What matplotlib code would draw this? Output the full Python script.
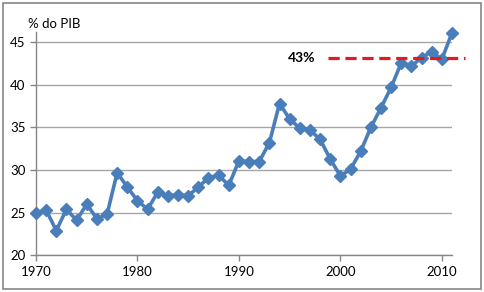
import matplotlib
matplotlib.use("Agg")
import matplotlib.pyplot as plt
from matplotlib.patches import Rectangle

years = list(range(1970, 2012))
values = [25.0, 25.3, 22.9, 25.4, 24.1, 26.0, 24.3, 24.8, 29.7, 28.0,
          26.4, 25.4, 27.4, 27.0, 27.1, 27.0, 28.0, 29.1, 29.4, 28.2,
          31.1, 31.0, 31.0, 33.2, 37.8, 36.0, 34.9, 34.7, 33.6, 31.3,
          29.3, 30.1, 32.2, 35.0, 37.3, 39.7, 42.6, 42.2, 43.2, 43.9,
          43.0, 46.1]
ref_level = 43.2
ref_label = "43%"
ref_span = [1998.8, 2012.3]

plt.rcParams['font.family'] = ['Lato', 'DejaVu Sans']

fig = plt.figure(figsize=(4.84, 2.92), dpi=100)
ax = fig.add_axes([36 / 484, 1 - 255.3 / 292, (452 - 36) / 484, (255.3 - 32) / 292])

ax.set_xlim(1970, 2011)
ax.set_ylim(20, 46.2)
ax.set_yticks([20, 25, 30, 35, 40, 45])
ax.set_xticks([1970, 1980, 1990, 2000, 2010])
ax.yaxis.grid(True, color='#a6a6a6', linewidth=1.0)
ax.set_axisbelow(True)
for s in ['top', 'right']:
    ax.spines[s].set_visible(False)
for s in ['left', 'bottom']:
    ax.spines[s].set_color('#868686')
    ax.spines[s].set_linewidth(1.0)
ax.tick_params(axis='both', colors='#868686', length=4, width=1,
               labelcolor='black', labelsize=9.5)

ax.plot(years, values, color='#4a7ebb', linewidth=2.6, marker='D',
        markersize=6.5, markerfacecolor='#4a7ebb', markeredgecolor='#4a7ebb',
        zorder=3, clip_on=False)

ax.plot(ref_span, [ref_level, ref_level], color='#e41a1c', linewidth=2.3,
        dashes=(3.5, 1.8), clip_on=False, zorder=4)
ax.text(1996.2, ref_level, ref_label, fontsize=10, fontweight='bold',
        ha='center', va='center')

fig.text(28 / 484, 1 - 24 / 292, "% do PIB", fontsize=9.5, va='center', ha='left')

fig.patches.append(Rectangle((3 / 484, 3 / 292), 478 / 484, 286 / 292,
                             transform=fig.transFigure, fill=False,
                             edgecolor='#868686', linewidth=1.2))

fig.savefig("out.png", dpi=100)
